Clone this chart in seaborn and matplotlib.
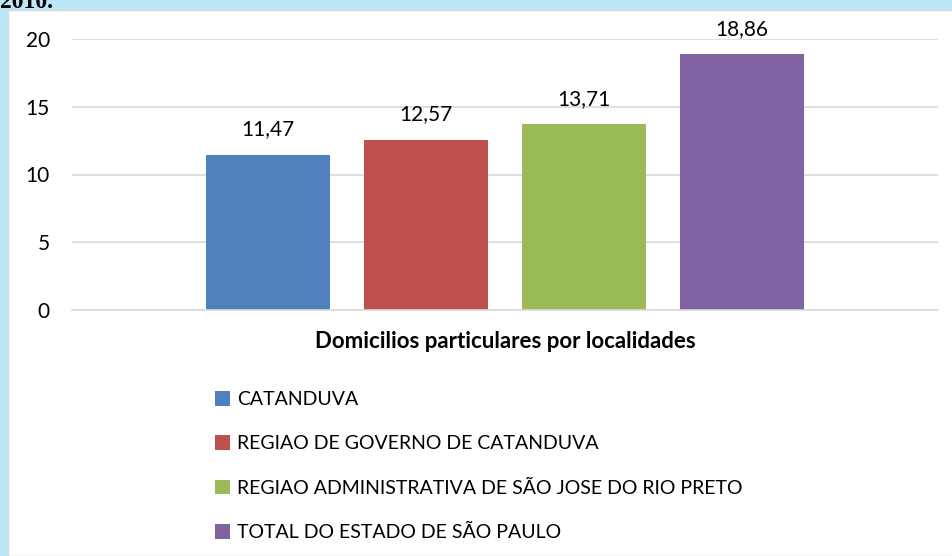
import matplotlib
matplotlib.use("Agg")
import matplotlib.pyplot as plt
import matplotlib.patches as mpatches
import seaborn as sns
import pandas as pd

categories = ["CATANDUVA",
              "REGIAO DE GOVERNO DE CATANDUVA",
              "REGIAO ADMINISTRATIVA DE SÃO JOSE DO RIO PRETO",
              "TOTAL DO ESTADO DE SÃO PAULO"]
values = [11.47, 12.57, 13.71, 18.86]
group_label = "Domicilios particulares por localidades"
yticks = [0, 5, 10, 15, 20]
colors = ["#4F81BD", "#C0504D", "#9BBB59", "#8064A2"]

sns.set_theme(style="white")
plt.rcParams['font.family'] = ['Lato', 'DejaVu Sans']

df = pd.DataFrame({"grupo": [group_label] * len(categories),
                   "local": categories, "valor": values})

W, H = 953, 556
fig = plt.figure(figsize=(W / 100, H / 100), dpi=100)
fig.patch.set_facecolor("#BDE6F6")
# white chart area
fig.patches.append(mpatches.Rectangle((8 / W, 0), 1 - 8 / W, 1 - 10 / H,
                                      transform=fig.transFigure,
                                      facecolor="white", edgecolor="#D9D9D9",
                                      linewidth=1, zorder=-5))
fig.text(0.0, 1 - 8 / H, "2010.", family="Liberation Serif", weight="bold",
         fontsize=17, va="baseline", ha="left", color="black")

ax = fig.add_axes([72 / W, 1 - 310 / H, (938 - 72) / W, (310 - 39) / H])
ax.set_zorder(2)
ax.set_facecolor("white")
sns.barplot(data=df, x="grupo", y="valor", hue="local", palette=colors,
            width=0.73, gap=0.21, ax=ax, legend=False, saturation=1,
            linewidth=0)

ax.set_xlim(-0.5, 0.5)
ax.set_ylim(0, 20)
ax.set_yticks(yticks)
ax.set_yticklabels([str(t) for t in yticks], fontsize=15)
ax.yaxis.grid(True, color="#D9D9D9", linewidth=1.2)
ax.set_axisbelow(True)
for s in ["top", "right", "left"]:
    ax.spines[s].set_visible(False)
ax.spines["bottom"].set_color("#D9D9D9")
ax.spines["bottom"].set_linewidth(1.2)
ax.tick_params(axis="y", length=0, pad=16)
ax.tick_params(axis="x", length=0)
ax.set_xticklabels([])
ax.set_xlabel("")
ax.set_ylabel("")
for lab in ax.get_yticklabels():
    lab.set_color("black")

for cont in ax.containers:
    ax.bar_label(cont, labels=[f"{v:.2f}".replace(".", ",") for v in cont.datavalues],
                 padding=11, fontsize=15, color="black")

fig.text(505 / W, 1 - 342 / H, group_label, ha="center", va="center",
         fontsize=16, weight="bold", color="black")

handles = [mpatches.Patch(facecolor=c, edgecolor="none") for c in colors]
leg = fig.legend(handles, categories, loc="upper left",
                 bbox_to_anchor=(205 / W, 1 - 381 / H), frameon=False,
                 fontsize=14, handlelength=0.8, handleheight=0.8,
                 handletextpad=0.35, labelspacing=1.4, borderpad=0)
for t in leg.get_texts():
    t.set_color("black")

fig.savefig("out.png", dpi=100)
